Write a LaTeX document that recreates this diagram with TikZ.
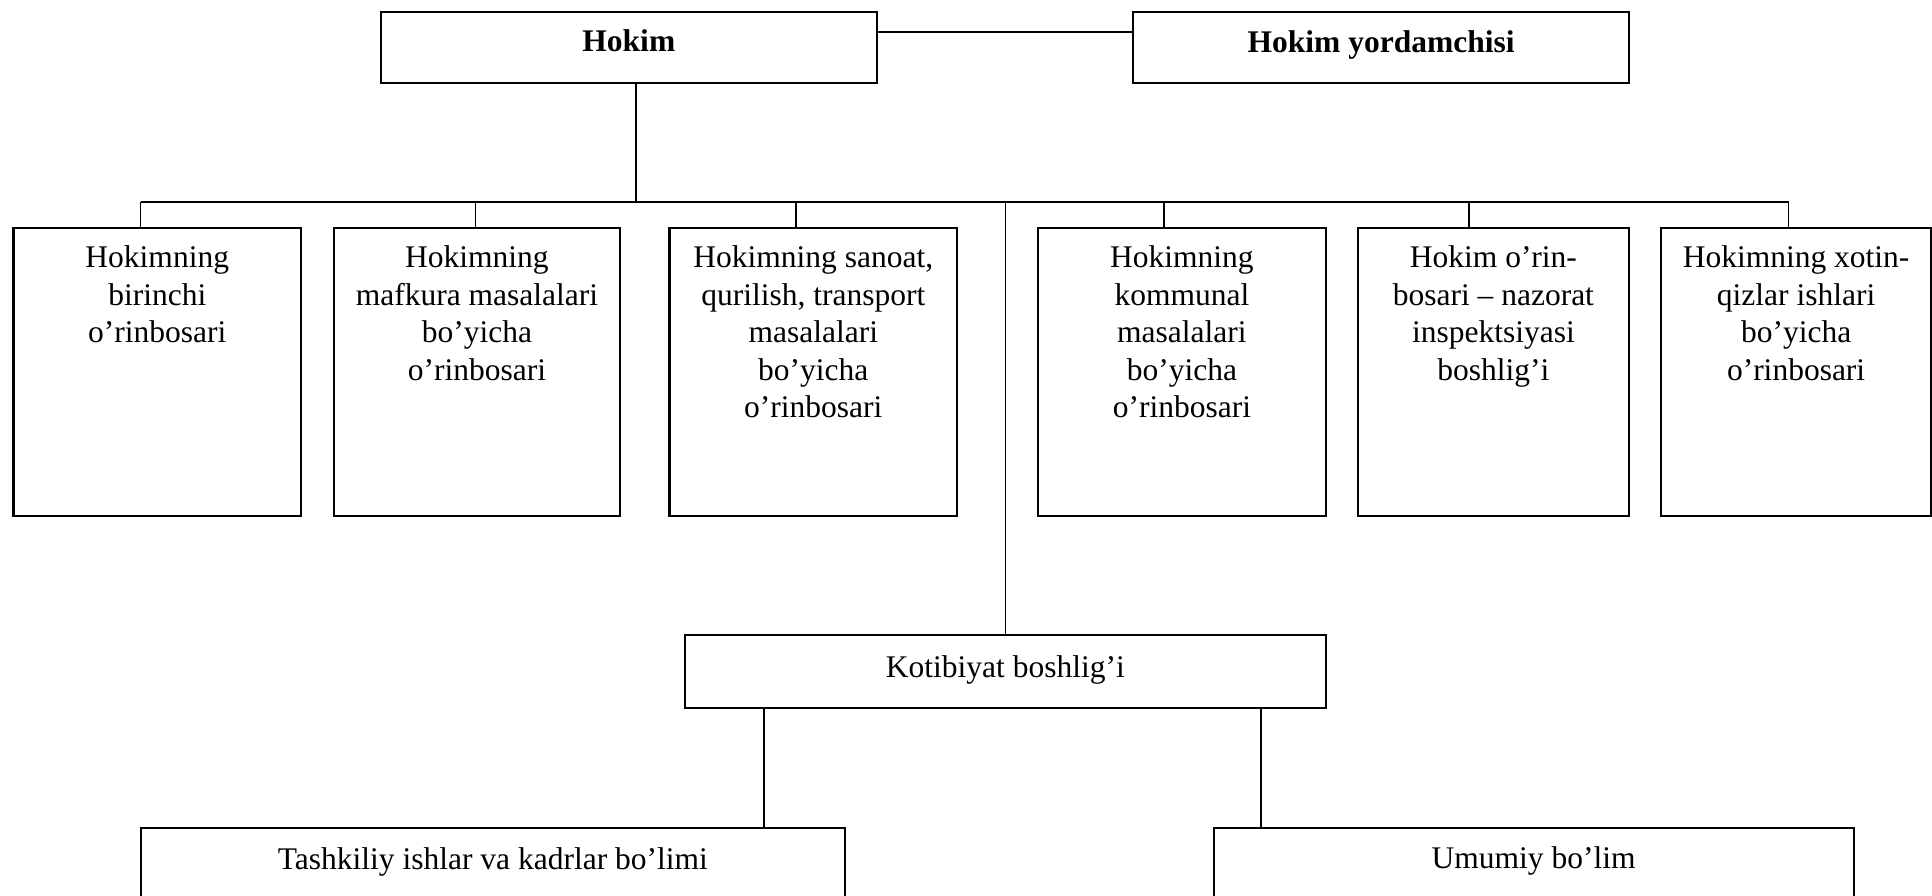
\documentclass[tikz,border=0pt]{standalone}
\usepackage{fontspec}
\setmainfont{Liberation Serif}
\newcommand{\toptext}[4]{\parbox[c][#1][t]{#2}{\centering\rule{0pt}{#3}#4}}
\tikzset{
  box/.style={draw, line width=2.2pt, inner sep=0pt, anchor=north west},
  link/.style={line width=1.6pt},
}
\begin{document}
\begin{tikzpicture}[x=1pt,y=-1pt]
\useasboundingbox (0,0) rectangle (1932,896);
\clip (0,0) rectangle (1932,896);
\fontsize{31.5pt}{37.5pt}\selectfont
% top
\node[box] (hokim) at (379.5,10.7) {\toptext{71.6pt}{496.5pt}{40pt}{\bfseries Hokim}};
\node[box] (yord) at (1132,10.7) {\toptext{71.6pt}{496pt}{40.5pt}{\bfseries Hokim yordamchisi}};
% row
\node[box] (b1) at (12.3,226.7) {\toptext{288.3pt}{287.7pt}{40pt}{Hokimning\\birinchi\\o’rinbosari}};
\node[box] (b2) at (332.7,226.7) {\toptext{288.3pt}{286.3pt}{40pt}{Hokimning\\mafkura masalalari\\bo’yicha\\o’rinbosari}};
\node[box] (b3) at (668.4,226.7) {\toptext{288.3pt}{287.6pt}{40pt}{Hokimning sanoat,\\qurilish, transport\\masalalari\\bo’yicha\\o’rinbosari}};
\node[box] (b4) at (1037,226.7) {\toptext{288.3pt}{287.6pt}{40pt}{Hokimning\\kommunal\\masalalari\\bo’yicha\\o’rinbosari}};
\node[box] (b5) at (1356.6,226.7) {\toptext{288.3pt}{271.4pt}{40pt}{Hokim o’rin-\\bosari – nazorat\\inspektsiyasi\\boshlig’i}};
\node[box] (b6) at (1660,226.7) {\toptext{288.3pt}{270pt}{40pt}{Hokimning xotin-\\qizlar ishlari\\bo’yicha\\o’rinbosari}};
% kotibiyat
\node[box] (kot) at (684,634) {\toptext{73pt}{640.5pt}{42pt}{Kotibiyat boshlig’i}};
\node[box] (tash) at (140,827) {\toptext{150pt}{703.5pt}{41pt}{Tashkiliy ishlar va kadrlar bo’limi}};
\node[box] (umum) at (1212.5,827) {\toptext{150pt}{640pt}{40pt}{Umumiy bo’lim}};
% connectors
\coordinate (busL) at (140.5,202);
\coordinate (busR) at (1788.5,202);
\draw[link] (hokim.east |- 0,32.3) -- (yord.west |- 0,32.3);
\draw[link] (hokim.south -| 636,0) -- (636,202);
\draw[link] (busL) -- (busR);
\draw[link] (busL) -- (b1.north -| busL);
\draw[link] (475.6,202) -- (b2.north -| 475.6,0);
\draw[link] (796,202) -- (b3.north -| 796,0);
\draw[link] (1164,202) -- (b4.north -| 1164,0);
\draw[link] (1469,202) -- (b5.north -| 1469,0);
\draw[link] (busR) -- (b6.north -| busR);
\draw[link] (kot.north |- busL) -- (kot.north);
\draw[link] (kot.south -| 763.8,0) -- (tash.north -| 763.8,0);
\draw[link] (kot.south -| 1260.7,0) -- (umum.north -| 1260.7,0);
\end{tikzpicture}
\end{document}
